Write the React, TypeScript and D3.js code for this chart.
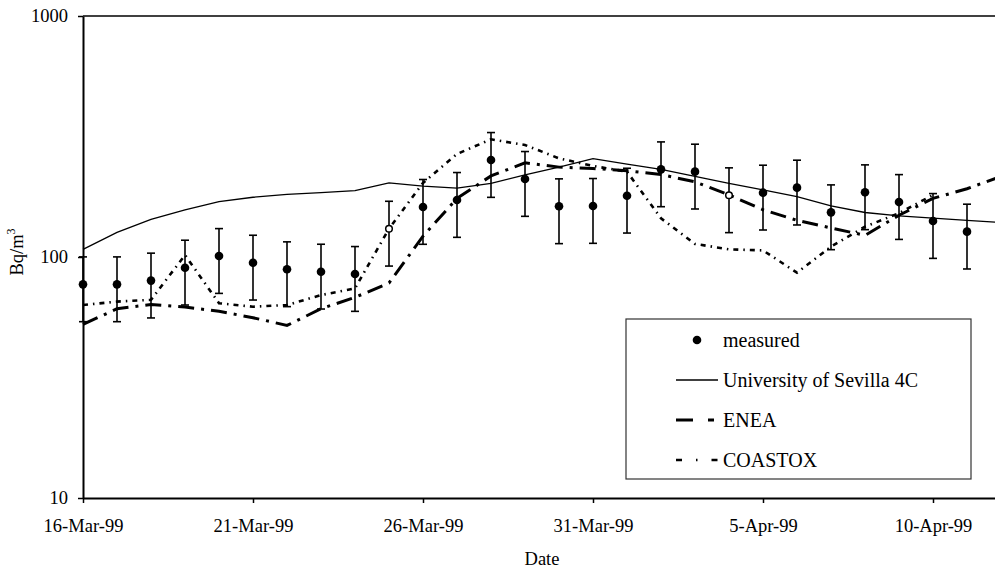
import * as d3 from "d3";
import { useEffect, useRef } from "react";

// daily dates on the x axis
const days = [
  "16-Mar-99", "17-Mar-99", "18-Mar-99", "19-Mar-99", "20-Mar-99", "21-Mar-99", "22-Mar-99",
  "23-Mar-99", "24-Mar-99", "25-Mar-99", "26-Mar-99", "27-Mar-99", "28-Mar-99", "29-Mar-99",
  "30-Mar-99", "31-Mar-99", "1-Apr-99", "2-Apr-99", "3-Apr-99", "4-Apr-99", "5-Apr-99",
  "6-Apr-99", "7-Apr-99", "8-Apr-99", "9-Apr-99", "10-Apr-99", "11-Apr-99", "12-Apr-99",
];

// measured activity (Bq/m3), 16-Mar .. 11-Apr, with +/- 30% error bars
const measured = [
  77, 77, 79.8, 90.3, 100.9, 94.7, 88.9, 86.9, 85, 131, 161.3, 172.4, 252.6, 210.7,
  162.3, 162.8, 179.6, 231, 226, 180.3, 184.9, 194, 153.2, 185.5, 169, 141, 127.4,
];
const errorPct = 30;
const hollowDays = ["25-Mar-99", "4-Apr-99"];

// model results
const sevilla = [
  107.6, 126.6, 143.4, 156.7, 169.7, 177, 182, 185, 188.4, 203, 197, 193, 202, 219,
  236, 256, 243, 231, 216, 202, 190, 178, 163, 153, 148, 145, 142, 139,
];
const enea = [
  52.5, 61, 63.5, 62, 59.5, 56, 52, 61, 68, 78, 122, 175, 217, 246,
  236, 233, 228, 220, 205, 181, 157, 142, 132, 123, 149, 175, 192, 216,
];
const coastox = [
  63.2, 65.3, 66.4, 101.9, 64.3, 62.2, 63.2, 69.5, 74.1, 131, 203, 267.6, 307.8, 291.6,
  256.7, 238.6, 226, 144.7, 113.3, 107.6, 106.5, 86.1, 110.4, 133.6, 152, 180.9,
];

const tickDays = ["16-Mar-99", "21-Mar-99", "26-Mar-99", "31-Mar-99", "5-Apr-99", "10-Apr-99"];
const yTicks = [10, 100, 1000];
const legendNames = ["measured", "University of Sevilla 4C", "ENEA", "COASTOX"];

const FONT = "'Liberation Serif', 'DejaVu Serif', serif";

const App = () => {
  const ref = useRef<SVGSVGElement>(null);

  useEffect(() => {
    const svg = d3.select(ref.current);
    svg.selectAll("*").remove();

    const left = 83, right = 1001, top = 16, bottom = 498;
    const parse = d3.utcParse("%d-%b-%y");
    const dates = days.map(d => parse(d) as Date);

    const x = d3.scaleUtc().domain([dates[0], dates[dates.length - 1]]).range([left, right]);
    const y = d3.scaleLog().domain([10, 1000]).range([bottom, top]);

    // top frame line
    svg.append("line")
      .attr("x1", left).attr("x2", right)
      .attr("y1", top).attr("y2", top)
      .attr("stroke", "#000").attr("stroke-width", 1.3);

    // Y axis
    const gy = svg.append("g")
      .attr("transform", `translate(${left},0)`)
      .call(d3.axisLeft(y).tickValues(yTicks).tickFormat(d3.format("d")).tickSize(5).tickSizeOuter(0).tickPadding(10));
    gy.attr("font-family", null).attr("font-size", null);
    gy.select(".domain").attr("stroke-width", 2);
    gy.selectAll(".tick line").attr("stroke-width", 1.5);
    gy.selectAll("text").style("font-size", "18.5px").attr("fill", "#000");

    // X axis
    const gx = svg.append("g")
      .attr("transform", `translate(0,${bottom})`)
      .call(d3.axisBottom(x).tickValues(tickDays.map(d => parse(d) as Date))
        .tickFormat(d3.utcFormat("%-d-%b-%y") as any).tickSize(5).tickSizeOuter(0).tickPadding(16));
    gx.attr("font-family", null).attr("font-size", null);
    gx.select(".domain").attr("stroke-width", 2);
    gx.selectAll(".tick line").attr("stroke-width", 1.5);
    gx.selectAll("text").style("font-size", "18.5px").attr("fill", "#000");

    // axis titles
    svg.append("text")
      .attr("x", (left + right) / 2).attr("y", 565)
      .attr("text-anchor", "middle")
      .style("font-size", "18.5px")
      .text("Date");

    const yl = svg.append("text")
      .attr("transform", `translate(23,252) rotate(-90)`)
      .attr("text-anchor", "middle")
      .style("font-size", "18.5px");
    yl.append("tspan").text("Bq/m");
    yl.append("tspan").style("font-size", "12px").attr("dy", -8).text("3");

    // measured with error bars
    const pts = measured.map((v, i) => ({ date: dates[i], day: days[i], v }));
    const bars = svg.append("g").attr("stroke", "#000").attr("stroke-width", 1.6);
    pts.forEach(p => {
      const cx = x(p.date);
      const lo = y(p.v * (1 - errorPct / 100));
      const hi = y(p.v * (1 + errorPct / 100));
      bars.append("line").attr("x1", cx).attr("x2", cx).attr("y1", lo).attr("y2", hi);
      bars.append("line").attr("x1", cx - 4).attr("x2", cx + 4).attr("y1", lo).attr("y2", lo);
      bars.append("line").attr("x1", cx - 4).attr("x2", cx + 4).attr("y1", hi).attr("y2", hi);
    });
    svg.append("g").selectAll("circle")
      .data(pts.filter(p => !hollowDays.includes(p.day)))
      .join("circle")
      .attr("cx", d => x(d.date)).attr("cy", d => y(d.v)).attr("r", 4.3)
      .attr("fill", "#000");

    // model lines
    const line = d3.line<number>()
      .x((_, i) => x(dates[i]))
      .y(d => y(d));

    svg.append("path").attr("d", line(sevilla))
      .attr("fill", "none").attr("stroke", "#000").attr("stroke-width", 1.3);
    svg.append("path").attr("d", line(enea))
      .attr("fill", "none").attr("stroke", "#000").attr("stroke-width", 3)
      .attr("stroke-dasharray", "16,7,3,7");
    svg.append("path").attr("d", line(coastox))
      .attr("fill", "none").attr("stroke", "#000").attr("stroke-width", 2.6)
      .attr("stroke-dasharray", "5,5,1.5,5");

    svg.append("g").selectAll("circle")
      .data(pts.filter(p => hollowDays.includes(p.day)))
      .join("circle")
      .attr("cx", d => x(d.date)).attr("cy", d => y(d.v)).attr("r", 3.3)
      .attr("fill", "#fff").attr("stroke", "#000").attr("stroke-width", 1.5);

    // legend
    const lg = svg.append("g");
    lg.append("rect")
      .attr("x", 626).attr("y", 319).attr("width", 345).attr("height", 160)
      .attr("fill", "#fff").attr("stroke", "#333").attr("stroke-width", 1.2);
    const rowY = (i: number) => 340 + i * 40;
    lg.append("circle").attr("cx", 697).attr("cy", rowY(0)).attr("r", 4.3).attr("fill", "#000");
    lg.append("line").attr("x1", 676).attr("x2", 718).attr("y1", rowY(1)).attr("y2", rowY(1))
      .attr("stroke", "#000").attr("stroke-width", 1.3);
    lg.append("line").attr("x1", 676).attr("x2", 718).attr("y1", rowY(2)).attr("y2", rowY(2))
      .attr("stroke", "#000").attr("stroke-width", 3).attr("stroke-dasharray", "17,15,6");
    lg.append("line").attr("x1", 676).attr("x2", 718).attr("y1", rowY(3)).attr("y2", rowY(3))
      .attr("stroke", "#000").attr("stroke-width", 2.6).attr("stroke-dasharray", "6,14,1.5,14");
    legendNames.forEach((name, i) => {
      lg.append("text")
        .attr("x", 723).attr("y", rowY(i) + 6.5)
        .style("font-size", "20px")
        .text(name);
    });
  }, []);

  return (
    <svg ref={ref} width={995} height={571}
      style={{ position: "absolute", left: 0, top: 0, background: "#fff", fontFamily: FONT }} />
  );
};

export default App;
